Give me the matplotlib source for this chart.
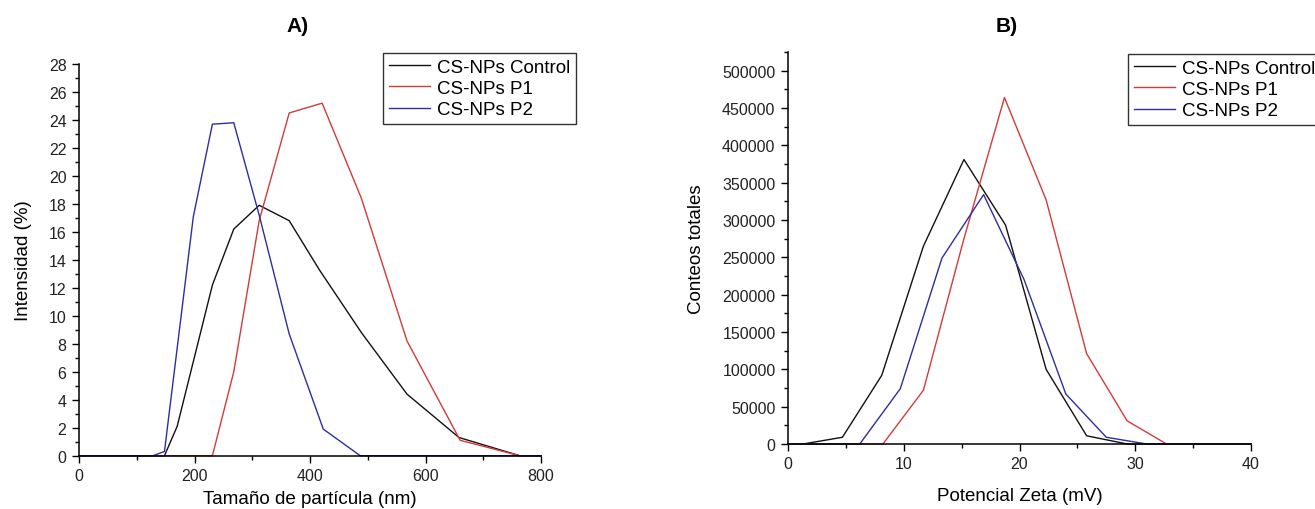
import matplotlib
matplotlib.use("Agg")
import matplotlib.pyplot as plt
from matplotlib.ticker import MultipleLocator, FormatStrFormatter

plt.rcParams['font.family'] = ['Liberation Sans', 'DejaVu Sans']

# ---- Panel A data: particle size distribution ----
size_ctrl_x = [0, 148, 170, 231, 268, 312, 364, 416, 489, 568, 658, 763, 800]
size_ctrl_y = [0, 0, 2.1, 12.2, 16.2, 17.9, 16.8, 13.3, 8.8, 4.4, 1.3, 0, 0]
size_p1_x = [0, 231, 268, 312, 364, 421, 489, 568, 660, 763, 800]
size_p1_y = [0, 0, 6.0, 16.8, 24.5, 25.2, 18.4, 8.2, 1.1, 0, 0]
size_p2_x = [0, 128, 148, 198, 231, 268, 312, 364, 423, 487, 800]
size_p2_y = [0, 0, 0.3, 17.1, 23.7, 23.8, 17.2, 8.7, 1.9, 0, 0]

# ---- Panel B data: zeta potential distribution ----
zeta_ctrl_x = [0, 1.3, 4.7, 8.1, 11.7, 15.2, 18.8, 22.3, 25.8, 29.3, 40]
zeta_ctrl_y = [0, 0, 9000, 92000, 265000, 381000, 293000, 100000, 11000, 0, 0]
zeta_p1_x = [0, 8.2, 11.7, 15.2, 18.7, 22.3, 25.8, 29.3, 32.7, 40]
zeta_p1_y = [0, 0, 72000, 275000, 464000, 327000, 121000, 31000, 0, 0]
zeta_p2_x = [0, 6.2, 9.7, 13.3, 16.9, 20.4, 24.0, 27.5, 31.0, 40]
zeta_p2_y = [0, 0, 74000, 249000, 334000, 220000, 67000, 9000, 0, 0]

labels = ["CS-NPs Control", "CS-NPs P1", "CS-NPs P2"]
colors = ["#111111", "#d43a3a", "#2e2e9e"]

W, H = 1315, 510
fig = plt.figure(figsize=(W / 100, H / 100), dpi=100)

def px_axes(x0, x1, ytop, ybot):
    return fig.add_axes([x0 / W, 1 - ybot / H, (x1 - x0) / W, (ybot - ytop) / H])

axA = px_axes(79, 541, 65, 456.7)
axB = px_axes(788, 1251, 53, 445)

def style(ax):
    for s in ("top", "right"):
        ax.spines[s].set_visible(False)
    for s in ("left", "bottom"):
        ax.spines[s].set_linewidth(1.1)
    ax.tick_params(which="major", direction="out", length=5, width=1.0,
                   labelsize=11.5, pad=4, labelcolor="#222222")
    ax.tick_params(which="minor", direction="out", length=3, width=1.0)

lw = 1.0
for xs, ys, lab, c in zip([size_ctrl_x, size_p1_x, size_p2_x],
                          [size_ctrl_y, size_p1_y, size_p2_y], labels, colors):
    axA.plot(xs, ys, color=c, lw=lw, label=lab, clip_on=False)
axA.set_xlim(0, 800)
axA.set_ylim(0, 28)
axA.xaxis.set_major_locator(MultipleLocator(200))
axA.xaxis.set_minor_locator(MultipleLocator(100))
axA.yaxis.set_major_locator(MultipleLocator(2))
axA.yaxis.set_minor_locator(MultipleLocator(1))
style(axA)
axA.set_xlabel("Tamaño de partícula (nm)", fontsize=13.5, labelpad=5)
axA.set_ylabel("Intensidad (%)", fontsize=13.5, labelpad=12)

for xs, ys, lab, c in zip([zeta_ctrl_x, zeta_p1_x, zeta_p2_x],
                          [zeta_ctrl_y, zeta_p1_y, zeta_p2_y], labels, colors):
    axB.plot(xs, ys, color=c, lw=lw, label=lab, clip_on=False)
axB.set_xlim(0, 40)
axB.set_ylim(0, 525000)
axB.xaxis.set_major_locator(MultipleLocator(10))
axB.xaxis.set_minor_locator(MultipleLocator(5))
axB.yaxis.set_major_locator(MultipleLocator(50000))
axB.yaxis.set_minor_locator(MultipleLocator(25000))
axB.yaxis.set_major_formatter(FormatStrFormatter("%d"))
style(axB)
axB.set_xlabel("Potencial Zeta (mV)", fontsize=13.5, labelpad=11)
axB.set_ylabel("Conteos totales", fontsize=13.5, labelpad=12)

fig.text(298 / W, 1 - 26 / H, "A)", fontsize=15, fontweight="bold",
         ha="center", va="center")
fig.text(1007 / W, 1 - 26 / H, "B)", fontsize=15, fontweight="bold",
         ha="center", va="center")

for ax, (lx, ly) in ((axA, (383, 54)), (axB, (1128, 55))):
    leg = ax.legend(loc="upper left", bbox_to_anchor=(lx / W, 1 - ly / H),
                    bbox_transform=fig.transFigure, fontsize=13.5,
                    frameon=True, fancybox=False, borderpad=0.3,
                    labelspacing=0.22, handlelength=2.2, handletextpad=0.4,
                    borderaxespad=0)
    fr = leg.get_frame()
    fr.set_edgecolor("#333333")
    fr.set_linewidth(1.0)
    fr.set_alpha(1)

fig.savefig("out.png", dpi=100)
